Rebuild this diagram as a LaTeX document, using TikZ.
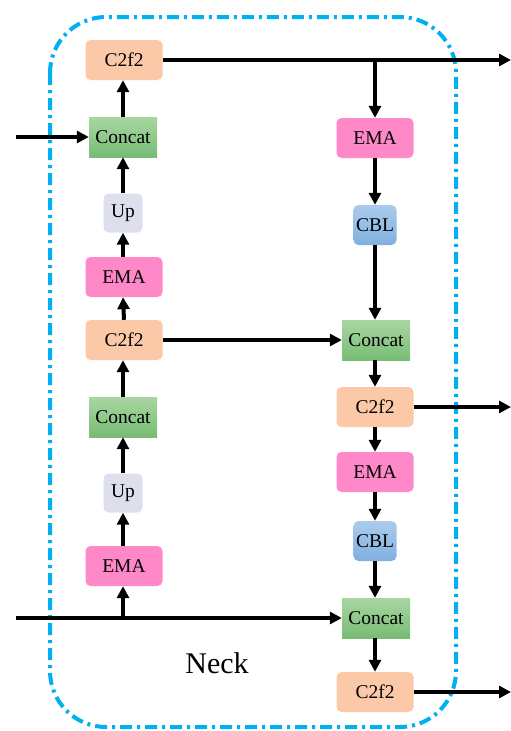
\documentclass[tikz,border=0pt]{standalone}
\usepackage{fontspec}
\setmainfont{Liberation Serif}
\usetikzlibrary{arrows.meta}
\definecolor{peach}{RGB}{251,201,168}
\definecolor{pinkb}{RGB}{255,136,200}
\definecolor{lav}{RGB}{221,223,237}
\definecolor{greenT}{RGB}{168,214,160}
\definecolor{greenB}{RGB}{120,188,118}
\definecolor{blueT}{RGB}{170,204,236}
\definecolor{blueB}{RGB}{128,176,224}
\definecolor{neckc}{RGB}{0,176,240}
\tikzset{
  blk/.style={draw=none, minimum height=40pt, font=\fontsize{19.5}{19.5}\selectfont, text=black, inner sep=0pt},
  c2f/.style={blk, fill=peach, rounded corners=5pt, minimum width=77pt},
  ema/.style={blk, fill=pinkb, rounded corners=5pt, minimum width=77pt},
  upb/.style={blk, fill=lav, rounded corners=5pt, minimum width=39pt, minimum height=39pt},
  cat/.style={blk, top color=greenT, bottom color=greenB, minimum width=68pt},
  cbl/.style={blk, top color=blueT, bottom color=blueB, rounded corners=5pt, minimum width=43pt, minimum height=40pt},
  arr/.style={line width=4pt, -{Triangle[length=12pt,width=12pt]}},
  ln/.style={line width=4pt},
}
\begin{document}
\begin{tikzpicture}[x=1pt,y=-1pt]
\useasboundingbox (0,0) rectangle (511,731);
% neck frame
\draw[neckc, line width=4pt, dash pattern=on 12pt off 5pt on 3pt off 5pt, rounded corners=56pt] (50,17) rectangle (456,727);
\node[font=\fontsize{30}{30}\selectfont] (neck) at (217,663) {Neck};
% left column
\node[c2f] (c2a) at (124,60) {C2f2};
\node[cat] (cca) at (123,137) {Concat};
\node[upb] (upa) at (123,213) {Up};
\node[ema] (ema) at (124,277) {EMA};
\node[c2f] (c2b) at (124,340) {C2f2};
\node[cat] (ccb) at (123,417) {Concat};
\node[upb] (upb) at (123,493) {Up};
\node[ema] (emb) at (124,566) {EMA};
% right column
\node[ema] (emr1) at (375,138) {EMA};
\node[cbl] (cbl1) at (375,225) {CBL};
\node[cat] (ccr1) at (376,340) {Concat};
\node[c2f] (c2r1) at (375,407) {C2f2};
\node[ema] (emr2) at (375,472) {EMA};
\node[cbl] (cbl2) at (375,541) {CBL};
\node[cat] (ccr2) at (376,618) {Concat};
\node[c2f] (c2r2) at (375,692) {C2f2};
% coordinates
\coordinate (inA) at (16,137);
\coordinate (inB) at (16,618);
\coordinate (brB) at (123,618);
\coordinate (brT) at (375,60);
\coordinate (outA) at (511,60);
\coordinate (outB) at (511,407);
\coordinate (outC) at (511,692);
% left connectors
\draw[arr] (inA) -- (cca.west);
\draw[arr] (cca.north) -- (c2a.south -| cca.north);
\draw[arr] (upa.north) -- (cca.south -| upa.north);
\draw[arr] (ema.north -| upa.south) -- (upa.south);
\draw[arr] (c2b.north -| ema.south) -- (ema.south -| upa.south);
\draw[arr] (ccb.north) -- (c2b.south -| ccb.north);
\draw[arr] (upb.north) -- (ccb.south -| upb.north);
\draw[arr] (emb.north -| upb.south) -- (upb.south);
\draw[ln] (inB) -- (brB);
\draw[arr] (brB) -- (emb.south -| brB);
\draw[arr] (brB) -- (ccr2.west);
% right connectors
\draw[arr] (c2a.east) -- (outA);
\draw[arr] (brT) -- (emr1.north);
\draw[arr] (emr1.south) -- (cbl1.north);
\draw[arr] (cbl1.south) -- (ccr1.north -| cbl1.south);
\draw[arr] (c2b.east) -- (ccr1.west);
\draw[arr] (ccr1.south -| c2r1.north) -- (c2r1.north);
\draw[arr] (c2r1.south) -- (emr2.north);
\draw[arr] (emr2.south) -- (cbl2.north);
\draw[arr] (cbl2.south) -- (ccr2.north -| cbl2.south);
\draw[arr] (ccr2.south -| c2r2.north) -- (c2r2.north);
\draw[arr] (c2r1.east) -- (outB);
\draw[arr] (c2r2.east) -- (outC);
\end{tikzpicture}
\end{document}
